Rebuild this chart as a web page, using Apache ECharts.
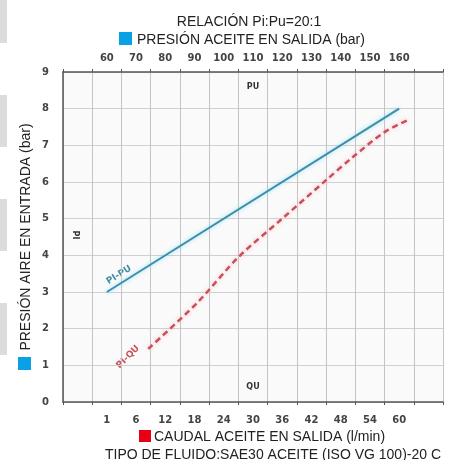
<!DOCTYPE html>
<html>
<head>
<meta charset="utf-8">
<script src="https://cdn.jsdelivr.net/npm/echarts@6/dist/echarts.min.js"></script>
<style>
html,body{margin:0;padding:0;background:#fff;}
#c{width:451px;height:460px;}
</style>
</head>
<body>
<div id="c"></div>
<script>
// Tick label categories (labels sit in the middle of each grid band)
var bottomLabels = ['', '1', '6', '12', '18', '24', '30', '36', '42', '48', '54', '60', ''];
var topLabels = ['', '60', '70', '80', '90', '100', '110', '120', '130', '140', '150', '160', ''];
// Pi-Pu line: oil outlet pressure (bar) vs air inlet pressure (bar)
var puValues = [60, 160];
var piForPu = [3, 8];
// Pi-Qu line: oil flow (l/min) vs air inlet pressure (bar)
var quValues = [8.5, 18.5, 27, 36, 45, 50.5, 57, 62];
var piForQu = [1.45, 2.7, 3.95, 5.0, 6.05, 6.68, 7.36, 7.7];
// Ranges of the hidden data axes (match the band layout of the label axes)
var quRange = [-9, 69];
var puRange = [45, 175];
var yTicks = [0, 9];

var chart = echarts.init(document.getElementById('c'));
var tickFont = {color: '#444', fontSize: 10, fontWeight: 'bold', fontFamily: 'DejaVu Sans'};
var txtFont = '14px "Liberation Sans"';

function pairs(xs, ys) { return xs.map(function (x, i) { return [x, ys[i]]; }); }

var option = {
  backgroundColor: '#fff',
  animation: false,
  grid: {left: 63, right: 8, top: 72, bottom: 58, show: true, backgroundColor: '#fafafa', borderWidth: 0},
  xAxis: [
    {type: 'category', position: 'bottom', data: bottomLabels, boundaryGap: true,
     axisLine: {onZero: false, lineStyle: {color: '#555', width: 1.5}},
     axisTick: {show: true, length: 3, lineStyle: {color: '#555'}},
     axisLabel: Object.assign({margin: 13, interval: 0}, tickFont),
     splitLine: {show: true, lineStyle: {color: '#c4c4c4', width: 1}}},
    {type: 'category', position: 'top', data: topLabels, boundaryGap: true,
     axisLine: {onZero: false, lineStyle: {color: '#555', width: 1.5}},
     axisTick: {show: true, length: 3, lineStyle: {color: '#555'}},
     axisLabel: Object.assign({margin: 9, interval: 0}, tickFont),
     splitLine: {show: false}},
    {type: 'value', show: false, min: quRange[0], max: quRange[1], axisLine: {onZero: false}},
    {type: 'value', show: false, min: puRange[0], max: puRange[1], axisLine: {onZero: false}}
  ],
  yAxis: [
    {type: 'value', min: yTicks[0], max: yTicks[1], interval: 1,
     axisLine: {show: true, onZero: false, lineStyle: {color: '#555', width: 1.5}},
     axisTick: {show: false},
     axisLabel: Object.assign({margin: 14}, tickFont),
     splitLine: {show: true, lineStyle: {color: '#d0d0d0', width: 1}}}
  ],
  series: [
    {type: 'line', name: 'PI-PU', xAxisIndex: 3, yAxisIndex: 0, data: pairs(puValues, piForPu),
     symbol: 'none', lineStyle: {color: '#3f8ea6', width: 2, shadowColor: 'rgba(120,220,255,0.8)', shadowBlur: 4}},
    {type: 'line', name: 'PI-QU', xAxisIndex: 2, yAxisIndex: 0, data: pairs(quValues, piForQu),
     symbol: 'none', smooth: 0.3,
     lineStyle: {color: '#c8505c', width: 2.5, type: [6, 4], shadowColor: 'rgba(255,170,180,0.8)', shadowBlur: 4}}
  ],
  graphic: [
    // grey page artifacts at the left edge
    {type: 'rect', shape: {x: 0, y: 0, width: 7, height: 43}, style: {fill: '#dcdcdc'}},
    {type: 'rect', shape: {x: 0, y: 95, width: 7, height: 52}, style: {fill: '#dcdcdc'}},
    {type: 'rect', shape: {x: 0, y: 199, width: 7, height: 52}, style: {fill: '#dcdcdc'}},
    {type: 'rect', shape: {x: 0, y: 303, width: 7, height: 52}, style: {fill: '#dcdcdc'}},
    // titles
    {type: 'text', x: 249, y: 22, style: {text: 'RELACIÓN Pi:Pu=20:1', font: txtFont, fill: '#222', align: 'center', verticalAlign: 'middle'}},
    {type: 'rect', shape: {x: 119, y: 32, width: 13, height: 13}, style: {fill: '#0aa0e6'}},
    {type: 'text', x: 137, y: 40, style: {text: 'PRESIÓN ACEITE EN SALIDA (bar)', font: txtFont, fill: '#222', align: 'left', verticalAlign: 'middle'}},
    {type: 'rect', shape: {x: 139, y: 430, width: 12, height: 12}, style: {fill: '#e60012'}},
    {type: 'text', x: 154, y: 437, style: {text: 'CAUDAL ACEITE EN SALIDA (l/min)', font: txtFont, fill: '#222', align: 'left', verticalAlign: 'middle'}},
    {type: 'text', x: 273, y: 455, style: {text: 'TIPO DE FLUIDO:SAE30 ACEITE (ISO VG 100)-20 C', font: txtFont, fill: '#222', align: 'center', verticalAlign: 'middle'}},
    {type: 'rect', shape: {x: 18, y: 357, width: 13, height: 13}, style: {fill: '#0aa0e6'}},
    {type: 'text', x: 26, y: 237, rotation: Math.PI / 2, style: {text: 'PRESIÓN AIRE EN ENTRADA (bar)', font: txtFont, fill: '#222', align: 'center', verticalAlign: 'middle'}},
    // in-plot annotations
    {type: 'text', x: 253, y: 87, style: {text: 'PU', font: 'bold 8px "DejaVu Sans"', fill: '#333', align: 'center', verticalAlign: 'middle'}},
    {type: 'text', x: 253, y: 387, style: {text: 'QU', font: 'bold 8px "DejaVu Sans"', fill: '#333', align: 'center', verticalAlign: 'middle'}},
    {type: 'text', x: 75, y: 235, rotation: -Math.PI / 2, style: {text: 'PI', font: 'bold 8px "DejaVu Sans"', fill: '#333', align: 'center', verticalAlign: 'middle'}},
    {type: 'text', x: 119, y: 275, rotation: 32 * Math.PI / 180, style: {text: 'PI-PU', font: 'bold 9px "DejaVu Sans"', fill: '#3f8ea6', align: 'center', verticalAlign: 'middle'}},
    {type: 'text', x: 128, y: 357, rotation: 45 * Math.PI / 180, style: {text: 'PI-QU', font: 'bold 9px "DejaVu Sans"', fill: '#c8505c', align: 'center', verticalAlign: 'middle'}}
  ]
};
chart.setOption(option);
</script>
</body>
</html>
